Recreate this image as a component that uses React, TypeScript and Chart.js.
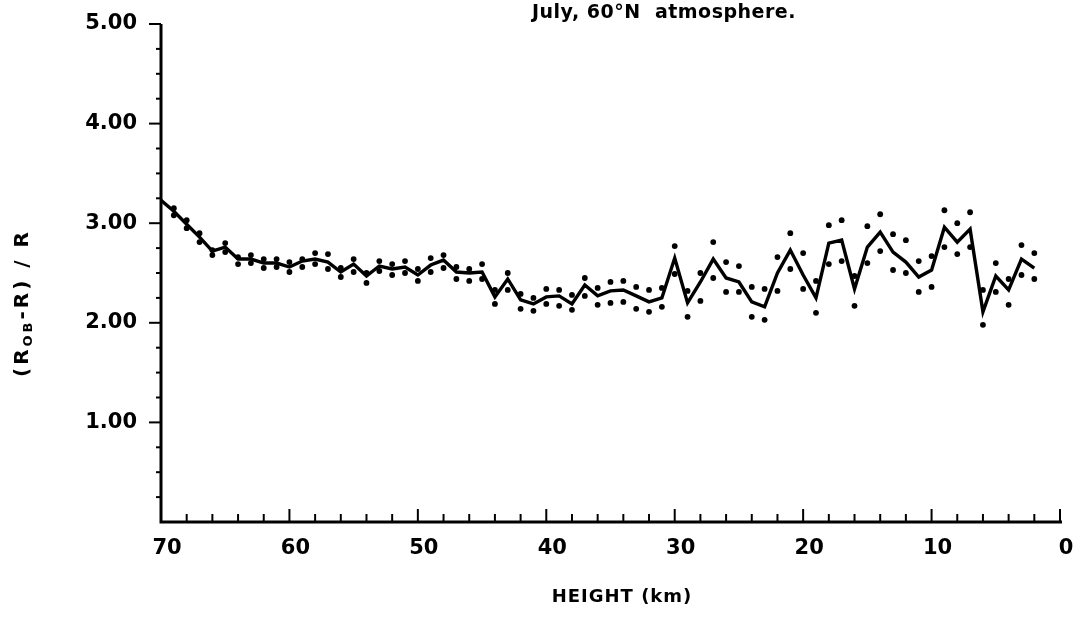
import React, { useEffect, useRef } from "react";
import { Chart, registerables } from "chart.js";

Chart.register(...registerables);

// Height (km), from 70 down to 2
const heights = [
  70, 69, 68, 67, 66, 65, 64, 63, 62, 61, 60, 59, 58, 57, 56, 55, 54, 53, 52, 51,
  50, 49, 48, 47, 46, 45, 44, 43, 42, 41, 40, 39, 38, 37, 36, 35, 34, 33, 32, 31,
  30, 29, 28, 27, 26, 25, 24, 23, 22, 21, 20, 19, 18, 17, 16, 15, 14, 13, 12, 11,
  10, 9, 8, 7, 6, 5, 4, 3, 2,
];

// Solid line: (R_OB - R) / R
const meanRatio = [
  3.23, 3.12, 2.99, 2.86, 2.72, 2.76, 2.64, 2.64, 2.6, 2.6, 2.56, 2.62, 2.64, 2.61, 2.51, 2.59, 2.47, 2.57, 2.54, 2.56,
  2.48, 2.58, 2.63, 2.51, 2.5, 2.51, 2.26, 2.44, 2.23, 2.19, 2.26, 2.27, 2.19, 2.38, 2.27, 2.32, 2.33, 2.27, 2.21, 2.25,
  2.65, 2.2, 2.41, 2.64, 2.45, 2.41, 2.21, 2.16, 2.5, 2.73, 2.48, 2.25, 2.8, 2.83, 2.34, 2.76, 2.91, 2.71, 2.61, 2.46,
  2.53, 2.96, 2.81, 2.94, 2.11, 2.47, 2.33, 2.64, 2.55,
];

// Dotted bounds
const upperDots = [
  null, 3.15, 3.03, 2.9, 2.73, 2.8, 2.66, 2.68, 2.64, 2.64, 2.61, 2.64, 2.7, 2.69, 2.55, 2.64, 2.5, 2.62, 2.59, 2.62,
  2.54, 2.65, 2.68, 2.56, 2.54, 2.59, 2.33, 2.5, 2.29, 2.25, 2.34, 2.33, 2.28, 2.45, 2.35, 2.41, 2.42, 2.36, 2.33, 2.35,
  2.77, 2.32, 2.5, 2.81, 2.61, 2.57, 2.36, 2.34, 2.66, 2.9, 2.7, 2.42, 2.98, 3.03, 2.47, 2.97, 3.09, 2.89, 2.83, 2.62,
  2.67, 3.13, 3.0, 3.11, 2.33, 2.6, 2.44, 2.78, 2.7,
];

const lowerDots = [
  null, 3.08, 2.95, 2.81, 2.68, 2.71, 2.59, 2.6, 2.55, 2.56, 2.51, 2.56, 2.59, 2.54, 2.46, 2.51, 2.4, 2.52, 2.48, 2.5,
  2.42, 2.51, 2.55, 2.44, 2.42, 2.44, 2.19, 2.33, 2.14, 2.12, 2.19, 2.17, 2.13, 2.27, 2.18, 2.2, 2.21, 2.14, 2.11, 2.16,
  2.49, 2.06, 2.22, 2.45, 2.31, 2.31, 2.06, 2.03, 2.32, 2.54, 2.34, 2.1, 2.59, 2.62, 2.17, 2.6, 2.72, 2.53, 2.5, 2.31,
  2.36, 2.76, 2.69, 2.76, 1.98, 2.31, 2.18, 2.48, 2.44,
];

const xTickValues = [70, 60, 50, 40, 30, 20, 10, 0];
const xTickLabels = ["70", "60", "50", "40", "30", "20", "10", "0"];
const yTickValues = [1, 2, 3, 4, 5];
const yTickLabels = ["1.00", "2.00", "3.00", "4.00", "5.00"];

const chartTitle = "July, 60°N  atmosphere.";
const xTitle = "HEIGHT (km)";

const FONT = "'DejaVu Sans', 'Liberation Sans', sans-serif";

const axesPlugin = {
  id: "axesPlugin",
  afterDraw(chart: any) {
    const { ctx } = chart;
    const xs = chart.scales.x;
    const ys = chart.scales.y;
    const xLeft = xs.getPixelForValue(70);
    const xRight = xs.getPixelForValue(0);
    const yBottom = ys.getPixelForValue(0);
    const yTop = ys.getPixelForValue(5);
    ctx.save();
    ctx.strokeStyle = "#000";
    ctx.fillStyle = "#000";
    ctx.lineCap = "butt";
    // axis lines
    ctx.lineWidth = 3;
    ctx.beginPath();
    ctx.moveTo(xLeft, yTop);
    ctx.lineTo(xLeft, yBottom);
    ctx.lineTo(xRight + 2, yBottom);
    ctx.stroke();
    // y ticks (outside, every 0.25)
    ctx.lineWidth = 2;
    for (let v = 0.25; v <= 5.001; v += 0.25) {
      const py = ys.getPixelForValue(v);
      const major = Math.abs(v - Math.round(v)) < 1e-6;
      ctx.beginPath();
      ctx.moveTo(xLeft, py);
      ctx.lineTo(xLeft - (major ? 12 : 5), py);
      ctx.stroke();
    }
    // x ticks (inside, every 2 km)
    for (let h = 68; h >= 0; h -= 2) {
      const px = xs.getPixelForValue(h);
      const major = h % 10 === 0;
      ctx.beginPath();
      ctx.moveTo(px, yBottom);
      ctx.lineTo(px, yBottom - (major ? 13 : 8));
      ctx.stroke();
    }
    // y tick labels
    ctx.font = `bold 21px ${FONT}`;
    ctx.textAlign = "right";
    ctx.textBaseline = "middle";
    yTickValues.forEach((v, i) => {
      ctx.fillText(yTickLabels[i], xLeft - 24, ys.getPixelForValue(v));
    });
    // x tick labels
    ctx.textAlign = "center";
    xTickValues.forEach((v, i) => {
      ctx.fillText(xTickLabels[i], xs.getPixelForValue(v) + 6, yBottom + 27);
    });
    // x title
    ctx.font = `bold 18px ${FONT}`;
    (ctx as any).letterSpacing = "1px";
    ctx.fillText(xTitle, 622, 597);
    // chart title
    ctx.textAlign = "left";
    (ctx as any).letterSpacing = "0.5px";
    ctx.font = `bold 19px ${FONT}`;
    ctx.fillText(chartTitle, 532, 13);
    // y title with subscript, rotated
    ctx.save();
    ctx.translate(23, 303);
    ctx.rotate(-Math.PI / 2);
    ctx.textBaseline = "middle";
    (ctx as any).letterSpacing = "3px";
    const big = `bold 20px ${FONT}`;
    const small = `bold 13px ${FONT}`;
    const parts = [
      { t: "(R", f: big, dy: 0 },
      { t: "OB", f: small, dy: 6 },
      { t: "-R) / R", f: big, dy: 0 },
    ];
    let total = 0;
    parts.forEach((p) => {
      ctx.font = p.f;
      total += ctx.measureText(p.t).width;
    });
    let cx = -total / 2;
    parts.forEach((p) => {
      ctx.font = p.f;
      ctx.textAlign = "left";
      ctx.fillText(p.t, cx, p.dy);
      cx += ctx.measureText(p.t).width;
    });
    ctx.restore();
    ctx.restore();
  },
};

export default function App() {
  const canvasRef = useRef<HTMLCanvasElement | null>(null);

  useEffect(() => {
    const canvas = canvasRef.current;
    if (!canvas) return;
    const toPts = (arr: (number | null)[]) =>
      heights.map((h, i) => ({ x: h, y: arr[i] }));
    const chart = new Chart(canvas, {
      type: "scatter",
      data: {
        datasets: [
          {
            label: "mean",
            data: toPts(meanRatio) as any,
            showLine: true,
            borderColor: "#000",
            borderWidth: 3.4,
            pointRadius: 0,
            tension: 0,
            borderJoinStyle: "miter",
          },
          {
            label: "upper",
            data: toPts(upperDots) as any,
            showLine: false,
            pointRadius: 2.9,
            backgroundColor: "#000",
            borderWidth: 0,
          },
          {
            label: "lower",
            data: toPts(lowerDots) as any,
            showLine: false,
            pointRadius: 2.9,
            backgroundColor: "#000",
            borderWidth: 0,
          },
        ],
      },
      options: {
        animation: false,
        responsive: false,
        devicePixelRatio: 1,
        layout: { padding: { left: 161, right: 15, top: 24, bottom: 110 } },
        plugins: { legend: { display: false }, tooltip: { enabled: false } },
        scales: {
          x: { type: "linear", reverse: true, min: 0, max: 70, display: false },
          y: { type: "linear", min: 0, max: 5, display: false },
        },
      },
      plugins: [axesPlugin],
    });
    return () => chart.destroy();
  }, []);

  return (
    <div style={{ position: "fixed", left: 0, top: 0, width: 1075, height: 632, background: "#fff" }}>
      <canvas ref={canvasRef} width={1075} height={632} style={{ display: "block" }} />
    </div>
  );
}
